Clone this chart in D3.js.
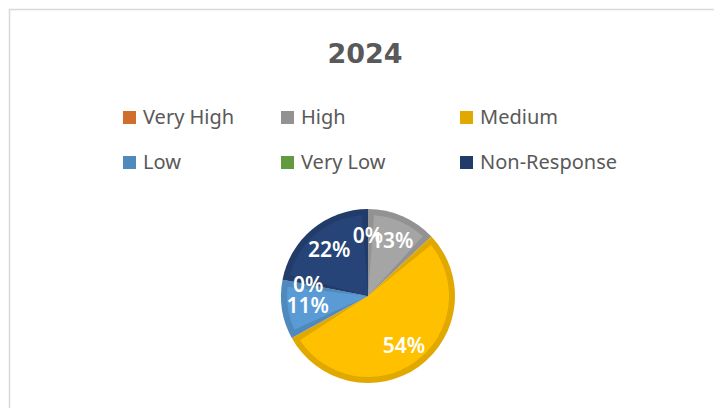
<!DOCTYPE html>
<html>
<head>
<meta charset="utf-8">
<script src="https://cdn.jsdelivr.net/npm/d3@7"></script>
<style>
  body { margin: 0; background: #fff; }
  svg { display: block; }
</style>
</head>
<body>
<div class="chart"></div>
<script>
'use strict'

let width = 714;
let height = 408;

const title = '2024';
const categories = ['Very High', 'High', 'Medium', 'Low', 'Very Low', 'Non-Response'];
const values = [0, 13, 54, 11, 0, 22];
const colors = ['#ed7d31', '#a5a5a5', '#ffc000', '#5b9bd5', '#70ad47', '#264478'];


function drawChart () {

    const svg = d3.select('.chart')
                  .append('svg')
                  .attr('width', width)
                  .attr('height', height);

    /* chart area frame, runs off the right and bottom edge */
    svg.append('rect')
       .attr('x', 9.5)
       .attr('y', 9.5)
       .attr('width', width + 20)
       .attr('height', height + 20)
       .style('fill', '#fff')
       .style('stroke', '#d9d9d9')
       .style('stroke-width', 1.5);

    svg.append('text')
       .attr('x', 365)
       .attr('y', 63)
       .attr('text-anchor', 'middle')
       .style('font-family', '"DejaVu Sans"')
       .style('font-weight', 'bold')
       .style('font-size', '27px')
       .style('fill', '#595959')
       .text(title);

    const color = d3.scaleOrdinal().domain(categories).range(colors);
    const edge = d => d3.color(color(d)).darker(0.35).formatHex();

    /* LEGEND: 3 columns, 2 rows */
    const colX = [123, 281, 460];
    const rowY = [111, 156];
    const legend = svg.selectAll('.legend')
                      .data(categories)
                      .enter()
                      .append('g')
                      .attr('class', 'legend')
                      .attr('transform', (d, i) => 'translate(' + colX[i % 3] + ',' + rowY[Math.floor(i / 3)] + ')');

    legend.append('rect')
          .attr('width', 13)
          .attr('height', 13)
          .style('fill', d => edge(d));

    legend.append('text')
          .attr('x', 20)
          .attr('y', 13)
          .style('font-family', '"Noto Sans"')
          .style('font-size', '20px')
          .style('fill', '#595959')
          .text(d => d);

    /* PIE with a bevel band round each slice */
    const cx = 368, cy = 296, radius = 87, band = 6;
    const pie = d3.pie().sort(null).value(d => d)(values);
    const arc = d3.arc().innerRadius(0).outerRadius(radius);
    const inner = d3.arc()
                    .innerRadius(0)
                    .outerRadius(radius - band)
                    .padRadius(radius)
                    .padAngle(2 * band / radius);
    const label = d3.arc().innerRadius(61).outerRadius(61);

    const g = svg.append('g').attr('transform', 'translate(' + cx + ',' + cy + ')');

    const slices = g.selectAll('.slice')
                    .data(pie)
                    .enter()
                    .append('g')
                    .attr('class', 'slice');

    slices.append('path')
          .attr('d', arc)
          .style('fill', d => edge(categories[d.index]));

    slices.filter(d => d.value > 0)
          .append('path')
          .attr('d', inner)
          .style('fill', d => color(categories[d.index]));

    g.selectAll('.label')
     .data(pie)
     .enter()
     .append('text')
     .attr('class', 'label')
     .attr('transform', d => 'translate(' + label.centroid(d) + ')')
     .attr('text-anchor', 'middle')
     .attr('dy', '0.36em')
     .style('font-family', '"Noto Sans"')
     .style('font-weight', '600')
     .style('font-size', '21px')
     .style('fill', '#fff')
     .text(d => d.value + '%');
}

document.addEventListener('DOMContentLoaded', function(e){
    drawChart();
});
</script>
</body>
</html>
